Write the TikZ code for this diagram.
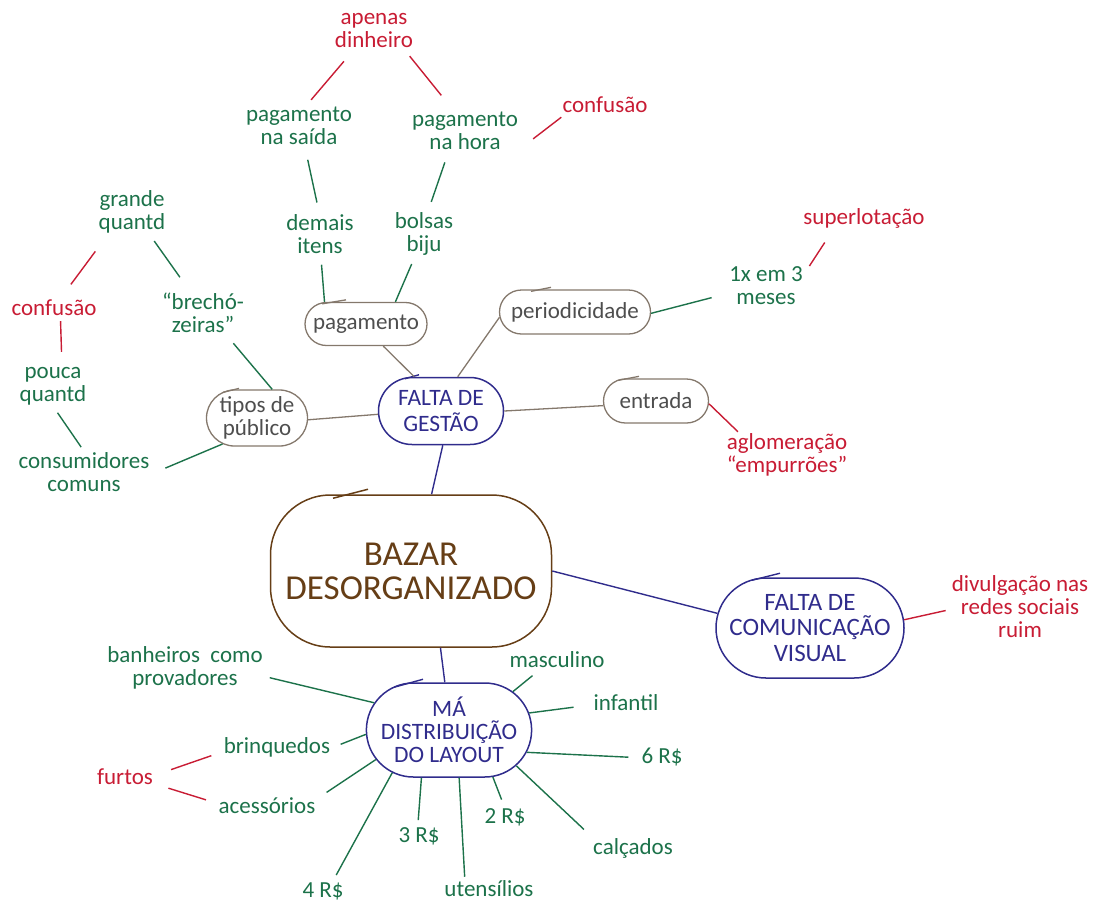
\documentclass[tikz,border=0pt]{standalone}
\usepackage{fontspec}
\setmainfont{Carlito}
\usetikzlibrary{shapes.misc}

\definecolor{leafgreen}{RGB}{28,114,74}
\definecolor{riskred}{RGB}{200,28,52}
\definecolor{themeblue}{RGB}{48,44,140}
\definecolor{corebrown}{RGB}{102,62,22}
\definecolor{topicgray}{RGB}{132,120,108}
\definecolor{topictext}{RGB}{78,78,78}

\tikzset{
  idea/.style={text=leafgreen, align=center, inner sep=1pt,
    font=\fontsize{23}{23}\selectfont},
  risk/.style={idea, text=riskred},
  topic/.style={rounded rectangle, draw=topicgray, line width=1.3pt,
    text=topictext, align=center, inner sep=1pt,
    font=\fontsize{23}{23}\selectfont},
  theme/.style={rounded rectangle, draw=themeblue, line width=1.5pt,
    text=themeblue, align=center, inner sep=1pt,
    font=\fontsize{24}{25}\selectfont},
  core/.style={rectangle, rounded corners=60pt, draw=corebrown, line width=1.5pt,
    text=corebrown, align=center, font=\fontsize{35}{34}\selectfont},
  gline/.style={leafgreen, line width=1.4pt},
  rline/.style={riskred, line width=1.4pt},
  tline/.style={topicgray, line width=1.3pt},
  bline/.style={themeblue, line width=1.4pt},
  cline/.style={corebrown, line width=1.5pt},
}

\begin{document}
\begin{tikzpicture}[x=1pt, y=-1pt]
\useasboundingbox (0,0) rectangle (1097,903);

% centre and main themes
\node[core, minimum width=281pt, minimum height=152pt] (baz) at (411,571) {BAZAR\\DESORGANIZADO};
\node[theme, minimum width=127pt, minimum height=67pt, font=\fontsize{23.5}{26}\selectfont] (fg) at (441,411) {FALTA DE\\GESTÃO};
\node[theme, minimum width=190pt, minimum height=100pt, font=\fontsize{25}{25.5}\selectfont] (com) at (810,628) {FALTA DE\\COMUNICAÇÃO\\VISUAL};
\node[theme, minimum width=165pt, minimum height=94pt, font=\fontsize{23.5}{23}\selectfont] (ma) at (449,730) {MÁ\\DISTRIBUIÇÃO\\DO LAYOUT};

% topics of gestao
\node[topic, minimum width=124pt, minimum height=43pt] (pag) at (366,324) {pagamento};
\node[topic, minimum width=153pt, minimum height=44pt] (per) at (575,312) {periodicidade};
\node[topic, minimum width=107pt, minimum height=44pt] (ent) at (656,401) {entrada};
\node[topic, minimum width=103pt, minimum height=56pt] (tip) at (257,418) {tipos de\\público};

% hand drawn overlaps of the outlines
\draw[cline] ([shift={(-78,4)}]baz.north) -- ([shift={(-43,-5)}]baz.north);
\draw[bline] ([shift={(-36,2)}]fg.north) -- ([shift={(-22,-2)}]fg.north);
\draw[bline] ([shift={(-58,3)}]com.north) -- ([shift={(-30,-4)}]com.north);
\draw[bline] ([shift={(-55,5)}]ma.north) -- ([shift={(-26,-3)}]ma.north);
\draw[tline] ([shift={(-44,2)}]pag.north) -- ([shift={(-20,-2)}]pag.north);
\draw[tline] ([shift={(-44,2)}]per.north) -- ([shift={(-24,-2)}]per.north);
\draw[tline] ([shift={(-38,2)}]ent.north) -- ([shift={(-17,-2)}]ent.north);
\draw[tline] ([shift={(-34,3)}]tip.north) -- ([shift={(-18,-1)}]tip.north);

% pagamento
\node[risk] (ap) at (374,30) {apenas\\dinheiro};
\node[idea] (sai) at (299,126) {pagamento\\na saída};
\node[idea] (hora) at (465,131) {pagamento\\na hora};
\node[risk] (conf1) at (605,105) {confusão};
\node[idea] (dem) at (320,234) {demais\\itens};
\node[idea] (bol) at (424,234) {bolsas\\biju};

% publico
\node[idea] (grq) at (132,212) {grande\\quantd};
\node[risk] (conf2) at (54,308) {confusão};
\node[idea] (bre) at (203,313) {“brechó-\\zeiras”};
\node[idea] (pou) at (53,386) {pouca\\quantd};
\node[idea] (con) at (84,472) {consumidores\\comuns};

% periodicidade and entrada
\node[idea] (mes) at (766,286) {1x em 3\\meses};
\node[risk] (sup) at (864,218) {superlotação};
\node[risk] (agl) at (787,455) {aglomeração\\“empurrões”};

% comunicacao
\node[risk] (div) at (1020,607) {divulgação nas\\redes sociais\\ruim};

% layout
\node[idea] (ban) at (185,668) {banheiros\ \ como\\provadores};
\node[idea] (mas) at (557,660) {masculino};
\node[idea] (inf) at (626,703) {infantil};
\node[idea] (r6) at (662,757) {6 R\$};
\node[idea] (cal) at (633,848) {calçados};
\node[idea] (r2) at (505,817) {2 R\$};
\node[idea] (ute) at (489,889) {utensílios};
\node[idea] (r3) at (419,836) {3 R\$};
\node[idea] (r4) at (323,891) {4 R\$};
\node[idea] (ace) at (267,806) {acessórios};
\node[idea] (bri) at (277,747) {brinquedos};
\node[risk] (fur) at (125,777) {furtos};

% main connectors
\draw[bline] (fg.-87) -- (baz.75);
\draw[bline] (baz.0) -- (com.171);
\draw[bline] (baz.-69) -- (ma.95);

% gestao
\draw[tline] (fg.128) -- (pag.-52);
\draw[tline] (fg.64) -- (per.184);
\draw[tline] (fg.0) -- (ent.185);
\draw[tline] (fg.183) -- (tip.-2);

\draw[rline, shorten <=17pt, shorten >=8pt] (ap.-136) -- (sai.71);
\draw[rline, shorten <=10pt, shorten >=20pt] (ap.-32) -- (hora.119);
\draw[rline, shorten <=20pt, shorten >=5pt] (hora.-21) -- (conf1.193);
\draw[gline, shorten <=14pt, shorten >=11pt] (sai.-74) -- (dem.92);
\draw[gline, shorten <=12pt, shorten >=10pt] (hora.-129) -- (bol.80);
\draw[gline, shorten <=10pt] (dem.-88) -- (pag.152);
\draw[gline, shorten <=8pt] (bol.-112) -- (pag.37);

\draw[gline, shorten >=17pt] (per.-1) -- (mes.191);
\draw[rline, shorten <=10pt, shorten >=16pt] (mes.17) -- (sup.200);
\draw[rline, shorten >=1pt] (ent.-3) -- (agl.155);

\draw[gline, shorten >=12pt] (tip.62) -- (bre.-43);
\draw[gline, shorten <=18pt, shorten >=8pt] (bre.121) -- (grq.-52);
\draw[rline, shorten <=21pt, shorten >=18pt] (grq.-137) -- (conf2.56);
\draw[rline, shorten <=4pt, shorten >=14pt] (conf2.-55) -- (pou.66);
\draw[gline, shorten <=8pt, shorten >=5pt] (pou.-90) -- (con.90);
\draw[gline, shorten >=16pt] (tip.217) -- (con.-2);

% comunicacao
\draw[rline, shorten >=5pt] (com.5) -- (div.182);

% layout
\draw[gline, shorten >=6pt] (ma.160) -- (ban.-6);
\draw[gline, shorten >=10pt] (ma.31) -- (mas.209);
\draw[gline, shorten >=19pt] (ma.12) -- (inf.183);
\draw[gline, shorten >=12pt] (ma.-16) -- (r6.182);
\draw[gline, shorten >=11pt] (ma.-28) -- (cal.165);
\draw[gline, shorten >=8pt] (ma.-47) -- (r2.93);
\draw[gline, shorten >=3pt] (ma.-78) -- (ute.159);
\draw[gline, shorten >=6pt] (ma.-120) -- (r3.97);
\draw[gline, shorten >=7pt] (ma.-143) -- (r4.45);
\draw[gline, shorten >=12pt] (ma.-158) -- (ace.8);
\draw[gline, shorten >=10pt] (ma.183) -- (bri.-1);
\draw[rline, shorten <=18pt, shorten >=12pt] (fur.3) -- (bri.185);
\draw[rline, shorten <=15pt, shorten >=12pt] (fur.-13) -- (ace.177);
\end{tikzpicture}
\end{document}
